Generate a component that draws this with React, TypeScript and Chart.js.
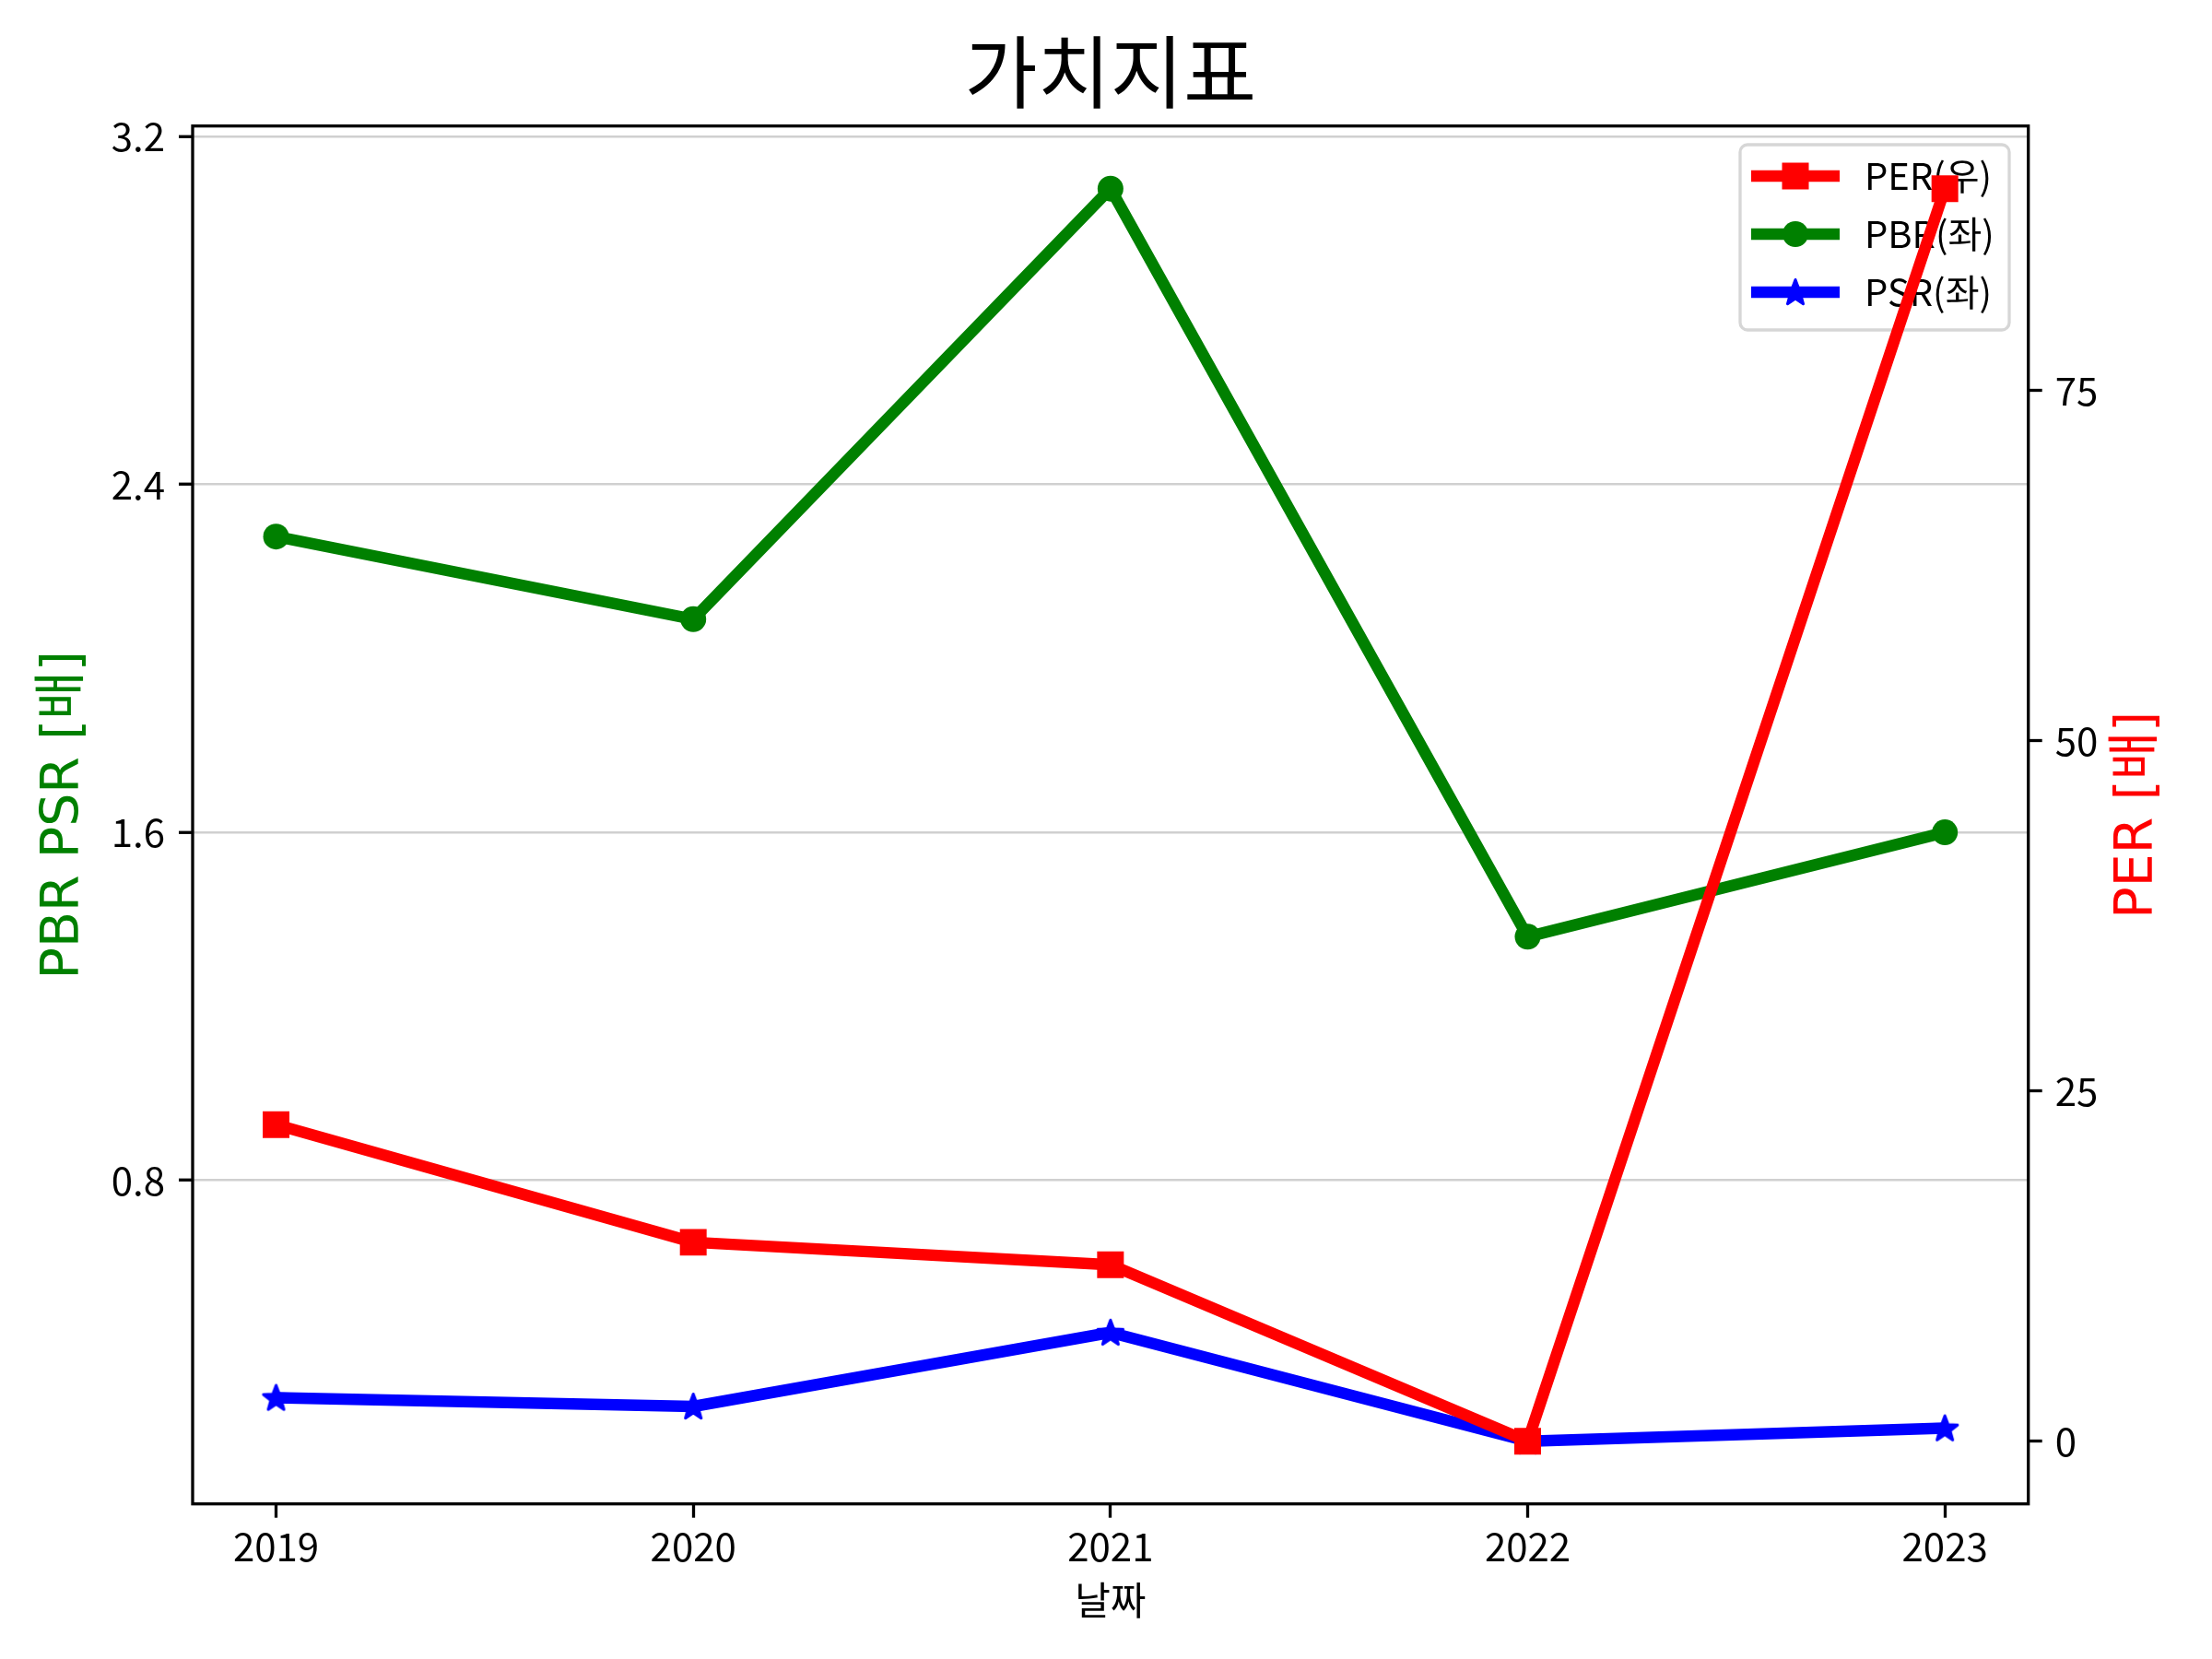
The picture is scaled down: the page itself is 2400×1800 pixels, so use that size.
import { useEffect, useRef } from "react"
import { Chart, registerables } from "chart.js"

Chart.register(...registerables)

const years = [2019, 2020, 2021, 2022, 2023]
const perValues = [22.6, 14.2, 12.6, 0.0, 89.4]
const pbrValues = [2.28, 2.09, 3.08, 1.36, 1.6]
const psrValues = [0.3, 0.28, 0.45, 0.2, 0.23]
const leftTicks = [0.8, 1.6, 2.4, 3.2]
const rightTicks = [0, 25, 50, 75]

const KR = "'Noto Sans CJK KR', sans-serif"
const LABEL_FONT = "'DejaVu Sans', 'Noto Sans CJK KR', sans-serif"

// matplotlib-style 5% margins
function padRange(values: number[]) {
  const lo = Math.min(...values)
  const hi = Math.max(...values)
  const m = (hi - lo) * 0.05
  return { min: lo - m, max: hi + m }
}

function starPath(ctx: CanvasRenderingContext2D, cx: number, cy: number, r: number) {
  const inner = r * 0.42
  ctx.beginPath()
  for (let i = 0; i < 10; i++) {
    const rad = i % 2 === 0 ? r : inner
    const a = -Math.PI / 2 + (i * Math.PI) / 5
    const px = cx + rad * Math.cos(a)
    const py = cy + rad * Math.sin(a)
    if (i === 0) ctx.moveTo(px, py)
    else ctx.lineTo(px, py)
  }
  ctx.closePath()
}

function makeStar(color: string) {
  const c = document.createElement("canvas")
  c.width = 34
  c.height = 34
  const g = c.getContext("2d")!
  g.fillStyle = color
  g.strokeStyle = color
  g.lineWidth = 3
  g.lineJoin = "round"
  starPath(g, 17, 18, 14.5)
  g.fill()
  g.stroke()
  return c
}

const legendPlugin = {
  id: "boxLegend",
  beforeDatasetsDraw(chart: any) {
    const { ctx, chartArea } = chart
    const boxW = 292
    const boxH = 201
    const x0 = chartArea.right - 20.7 - boxW
    const y0 = chartArea.top + 20.3
    ctx.save()
    ctx.beginPath()
    ctx.roundRect(x0, y0, boxW, boxH, 8)
    ctx.fillStyle = "rgba(255,255,255,0.8)"
    ctx.fill()
    ctx.lineWidth = 3.3
    ctx.strokeStyle = "rgba(204,204,204,0.8)"
    ctx.stroke()
    chart.data.datasets.forEach((ds: any, i: number) => {
      const cy = y0 + 34 + i * 63
      ctx.strokeStyle = ds.borderColor
      ctx.lineWidth = ds.borderWidth
      ctx.beginPath()
      ctx.moveTo(x0 + 12, cy)
      ctx.lineTo(x0 + 108, cy)
      ctx.stroke()
      const mx = x0 + 60
      ctx.fillStyle = ds.borderColor
      if (ds.pointStyle === "rect") {
        ctx.fillRect(mx - 14.5, cy - 14.5, 29, 29)
      } else if (ds.pointStyle === "circle") {
        ctx.beginPath()
        ctx.arc(mx, cy, ds.pointRadius, 0, Math.PI * 2)
        ctx.fill()
      } else if (ds.pointStyle instanceof HTMLCanvasElement) {
        const img = ds.pointStyle
        ctx.drawImage(img, mx - img.width / 2, cy - img.height / 2)
      }
      ctx.fillStyle = "#000"
      ctx.font = `40px ${KR}`
      ctx.textAlign = "left"
      ctx.textBaseline = "middle"
      ctx.fillText(ds.label, x0 + 135, cy)
    })
    ctx.restore()
  },
  afterDatasetsDraw(chart: any) {
    const { ctx, chartArea } = chart
    ctx.save()
    ctx.strokeStyle = "#000"
    ctx.lineWidth = 3.3
    ctx.strokeRect(chartArea.left, chartArea.top, chartArea.right - chartArea.left, chartArea.bottom - chartArea.top)
    // right axis label, reading bottom to top like the left one
    ctx.translate(2320, (chartArea.top + chartArea.bottom) / 2)
    ctx.rotate(-Math.PI / 2)
    ctx.fillStyle = "#ff0000"
    ctx.font = `57px ${LABEL_FONT}`
    ctx.textAlign = "center"
    ctx.textBaseline = "middle"
    ctx.fillText("PER [배]", 0, 0)
    ctx.restore()
  },
}

export default function App() {
  const chartRef = useRef<HTMLCanvasElement>(null)
  const chartInstance = useRef<Chart | null>(null)

  useEffect(() => {
    document.body.style.margin = "0"
    if (!chartRef.current) return
    if (chartInstance.current) chartInstance.current.destroy()
    const ctx = chartRef.current.getContext("2d")
    if (!ctx) return

    const left = padRange([...pbrValues, ...psrValues])
    const right = padRange(perValues)
    const xr = padRange(years)
    const tickGrid = { tickColor: "#000", tickWidth: 3.3, tickLength: 15 }
    const tickFont = { family: KR, size: 42, lineHeight: 1.2 }

    chartInstance.current = new Chart(ctx, {
      type: "line",
      data: {
        datasets: [
          {
            label: "PER(우)",
            data: years.map((x, i) => ({ x, y: perValues[i] })),
            yAxisID: "y1",
            borderColor: "#ff0000",
            backgroundColor: "#ff0000",
            borderWidth: 12.5,
            borderJoinStyle: "round",
            pointStyle: "rect",
            pointRadius: 20.5,
            pointBorderWidth: 0,
            order: 0,
          },
          {
            label: "PBR(좌)",
            data: years.map((x, i) => ({ x, y: pbrValues[i] })),
            yAxisID: "y",
            borderColor: "#008000",
            backgroundColor: "#008000",
            borderWidth: 12.5,
            borderJoinStyle: "round",
            pointStyle: "circle",
            pointRadius: 14,
            pointBorderWidth: 0,
            order: 1,
          },
          {
            label: "PSR(좌)",
            data: years.map((x, i) => ({ x, y: psrValues[i] })),
            yAxisID: "y",
            borderColor: "#0000ff",
            backgroundColor: "#0000ff",
            borderWidth: 12.5,
            borderJoinStyle: "round",
            pointStyle: makeStar("#0000ff"),
            pointRadius: 12,
            pointBorderWidth: 0,
            order: 2,
          },
        ] as any,
      },
      options: {
        responsive: false,
        devicePixelRatio: 1,
        animation: false,
        layout: { padding: 0 },
        scales: {
          x: {
            type: "linear",
            min: xr.min,
            max: xr.max,
            afterBuildTicks: (s: any) => {
              s.ticks = years.map((v) => ({ value: v }))
            },
            afterFit: (s: any) => {
              s.height = 168.3
            },
            grid: { display: true, drawOnChartArea: false, ...tickGrid },
            border: { display: false },
            ticks: {
              color: "#000",
              font: tickFont,
              padding: 6,
              maxRotation: 0,
              autoSkip: false,
              callback: (v: any) => String(v),
            },
            title: {
              display: true,
              text: "날짜",
              color: "#000",
              font: tickFont,
              padding: { top: 0, bottom: 39 },
            },
          },
          y: {
            type: "linear",
            position: "left",
            min: left.min,
            max: left.max,
            afterBuildTicks: (s: any) => {
              s.ticks = leftTicks.map((v) => ({ value: v }))
            },
            afterFit: (s: any) => {
              s.width = 209
            },
            grid: { color: "#d0d0d0", lineWidth: 2.5, ...tickGrid },
            border: { display: false },
            ticks: {
              color: "#000",
              font: tickFont,
              padding: 15,
              callback: (v: any) => Number(v).toFixed(1),
            },
            title: {
              display: true,
              text: "PBR PSR [배]",
              color: "#008000",
              font: { family: LABEL_FONT, size: 57, lineHeight: 1.2 },
              padding: { top: 36, bottom: 0 },
            },
          },
          y1: {
            type: "linear",
            axis: "y",
            position: "right",
            min: right.min,
            max: right.max,
            afterBuildTicks: (s: any) => {
              s.ticks = rightTicks.map((v) => ({ value: v }))
            },
            afterFit: (s: any) => {
              s.width = 199.3
            },
            grid: { drawOnChartArea: false, ...tickGrid },
            border: { display: false },
            ticks: {
              color: "#000",
              font: tickFont,
              padding: 14,
              callback: (v: any) => String(v),
            },
          },
        },
        plugins: {
          legend: { display: false },
          tooltip: { enabled: false },
          title: {
            display: true,
            text: "가치지표",
            color: "#000",
            fullSize: false,
            font: { family: KR, size: 86, weight: "normal", lineHeight: 1.2 },
            padding: { top: 27, bottom: 6.5 },
          },
        },
      } as any,
      plugins: [legendPlugin],
    })

    return () => {
      if (chartInstance.current) {
        chartInstance.current.destroy()
        chartInstance.current = null
      }
    }
  }, [])

  return (
    <div style={{ width: 2400, height: 1800 }}>
      <canvas ref={chartRef} width={2400} height={1800} style={{ display: "block" }} />
    </div>
  )
}
